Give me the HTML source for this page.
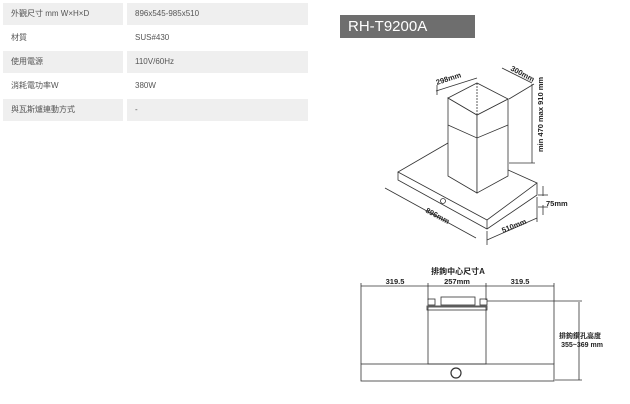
<!DOCTYPE html><html><head><meta charset="utf-8"><style>
body{margin:0;width:630px;height:404px;background:#fff;position:relative;overflow:hidden;font-family:"Liberation Sans","Noto Sans CJK TC",sans-serif;}
.r{position:absolute;left:3px;width:305px;height:22px;font-size:8px;color:#555;}
.r div{position:absolute;top:0;height:22px;line-height:22px;}
.a{left:0;width:120px;padding-left:8px;box-sizing:border-box}
.b{left:124px;width:181px;padding-left:8px;box-sizing:border-box}
.g .a,.g .b{background:#efefef}
</style></head><body>
<div class="r g" style="top:3px"><div class="a">外觀尺寸 mm W×H×D</div><div class="b">896x545-985x510</div></div>
<div class="r" style="top:27px"><div class="a">材質</div><div class="b">SUS#430</div></div>
<div class="r g" style="top:51px"><div class="a">使用電源</div><div class="b">110V/60Hz</div></div>
<div class="r" style="top:75px"><div class="a">消耗電功率W</div><div class="b">380W</div></div>
<div class="r g" style="top:99px"><div class="a">與瓦斯爐連動方式</div><div class="b">-</div></div>
<div style="position:absolute;left:340px;top:15px;width:135px;height:23px;background:#6e6e6e;color:#fff;font-size:15px;line-height:23px;padding-left:8px;box-sizing:border-box">RH-T9200A</div>
<svg width="630" height="404" style="position:absolute;left:0;top:0" font-family="Liberation Sans, Noto Sans CJK TC, sans-serif" fill="none" stroke="#333" stroke-width="0.8">
<!-- iso plate -->
<polygon points="398,172 487,220 537,183 448,143" fill="#fff"/>
<polyline points="398,172 398,180 487,229 537,195 537,183"/>
<line x1="487" y1="220" x2="487" y2="229"/>
<!-- chimney -->
<polygon points="448,98 477,115 477,193 448,176" fill="#fff"/>
<polygon points="477,115 508,99 508,176 477,193" fill="#fff"/>
<polygon points="448,98 477,83 508,99 477,115" fill="#fff"/>
<polyline points="448,125 477,138 508,125"/>
<line x1="477" y1="83" x2="477" y2="115" stroke-dasharray="2,1"/>
<circle cx="443" cy="201" r="2.5"/>
<!-- dims iso -->
<line x1="436" y1="91" x2="477" y2="78"/><line x1="437" y1="85" x2="437" y2="95"/>
<line x1="502" y1="68" x2="532" y2="83"/><line x1="532" y1="84" x2="532" y2="163"/>
<line x1="509" y1="99" x2="534" y2="84"/><line x1="509" y1="163" x2="535" y2="163"/>
<line x1="385" y1="188" x2="476" y2="238"/><line x1="487" y1="240" x2="537" y2="218"/>
<line x1="487" y1="231" x2="487" y2="245"/><line x1="537" y1="197" x2="537" y2="222"/>
<line x1="543" y1="186" x2="543" y2="196"/><line x1="543" y1="205" x2="543" y2="215"/>
<line x1="538" y1="195" x2="548" y2="195"/><line x1="538" y1="207" x2="548" y2="207"/>
<g fill="#222" stroke="none" font-size="7.5" font-weight="bold">
<text x="437" y="85" transform="rotate(-18 437 85)">298mm</text>
<text x="510" y="70" transform="rotate(28 510 70)">300mm</text>
<text x="543" y="152" transform="rotate(-90 543 152)">min 470 max 910 mm</text>
<text x="546" y="206">75mm</text>
<text x="425" y="212" transform="rotate(28 425 212)">896mm</text>
<text x="503" y="233" transform="rotate(-22 503 233)">510mm</text>
<text x="458" y="274" text-anchor="middle" font-size="8">排鉤中心尺寸A</text>
<text x="395" y="284" text-anchor="middle">319.5</text>
<text x="457" y="284" text-anchor="middle">257mm</text>
<text x="520" y="284" text-anchor="middle">319.5</text>
<text x="580" y="338" text-anchor="middle" font-size="7">排鉤鑽孔高度</text>
<text x="582" y="347" text-anchor="middle" font-size="7">355~369 mm</text>
</g>
<!-- front view -->
<line x1="361" y1="286" x2="554" y2="286"/>
<line x1="361" y1="283" x2="361" y2="364"/><line x1="554" y1="283" x2="554" y2="364"/>
<line x1="428" y1="283" x2="428" y2="300"/><line x1="486" y1="283" x2="486" y2="300"/>
<rect x="428" y="307" width="58" height="57"/>
<rect x="427" y="306" width="60" height="4"/>
<rect x="441" y="297" width="34" height="8"/>
<rect x="428" y="299" width="7" height="6"/><rect x="480" y="299" width="7" height="6"/>
<line x1="487" y1="301" x2="582" y2="301"/>
<line x1="579" y1="302" x2="579" y2="380"/><line x1="555" y1="380" x2="582" y2="380"/>
<rect x="361" y="364" width="193" height="17"/>
<circle cx="456" cy="373" r="5" stroke-width="1.2"/>
</svg>
</body></html>
